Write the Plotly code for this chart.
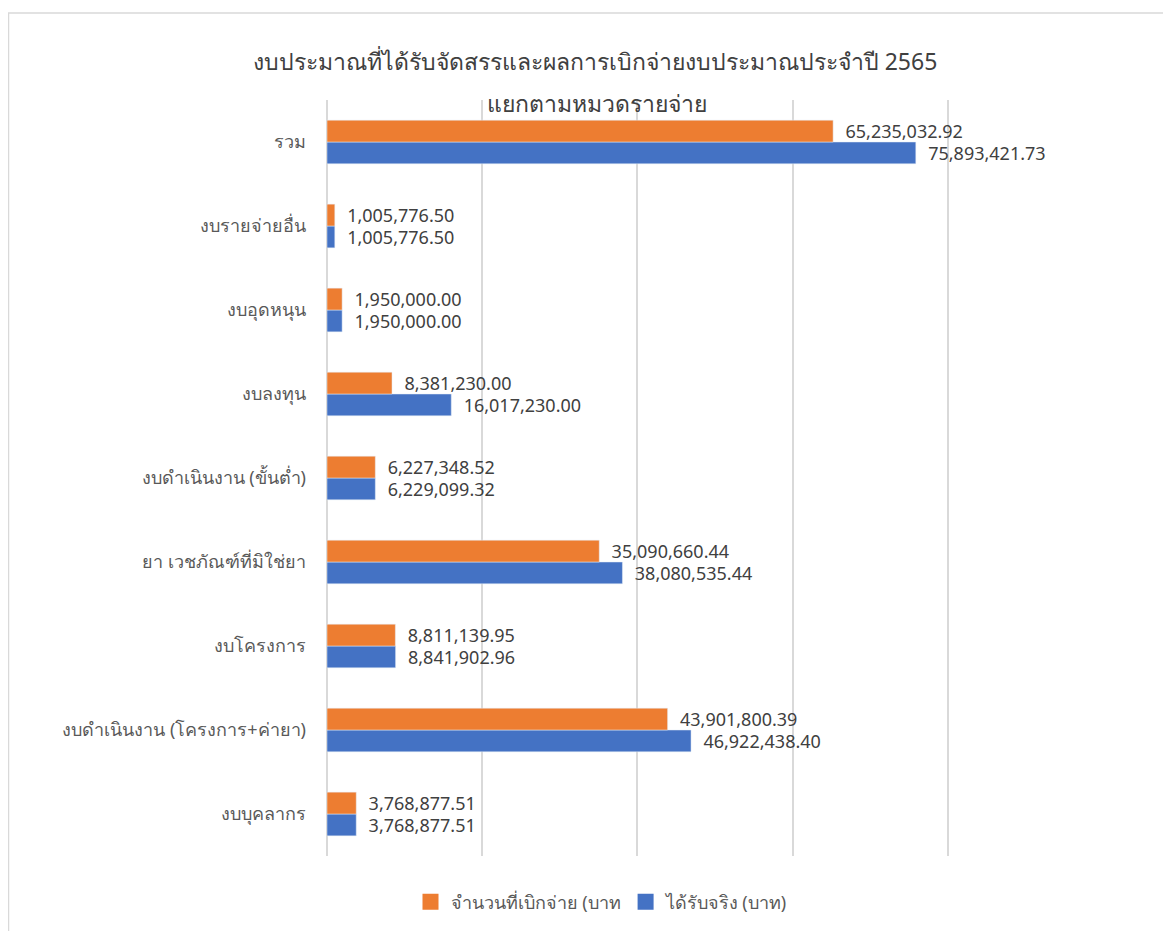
import plotly.graph_objects as go

categories = [
    "งบบุคลากร",
    "งบดำเนินงาน (โครงการ+ค่ายา)",
    "งบโครงการ",
    "ยา เวชภัณฑ์ที่มิใช่ยา",
    "งบดำเนินงาน (ขั้นต่ำ)",
    "งบลงทุน",
    "งบอุดหนุน",
    "งบรายจ่ายอื่น",
    "รวม",
]
disbursed = [3768877.51, 43901800.39, 8811139.95, 35090660.44, 6227348.52,
             8381230.00, 1950000.00, 1005776.50, 65235032.92]
received = [3768877.51, 46922438.40, 8841902.96, 38080535.44, 6229099.32,
            16017230.00, 1950000.00, 1005776.50, 75893421.73]
x_gridlines = [0, 20000000, 40000000, 60000000, 80000000]

series_names = ["จำนวนที่เบิกจ่าย (บาท", "ได้รับจริง (บาท)"]
title_line1 = "งบประมาณที่ได้รับจัดสรรและผลการเบิกจ่ายงบประมาณประจำปี 2565"
title_line2 = "แยกตามหมวดรายจ่าย"

FONT = "Noto Sans, DejaVu Sans, sans-serif"
ORANGE = "#ED7D31"
BLUE = "#4472C4"

# figure-pixel layout (page has 8px body offset)
L, R, T, B = 319, 229, 92, 83
W, H = 1171, 931
PW, PH = W - L - R, H - T - B

fig = go.Figure()
fig.add_trace(go.Bar(
    y=categories, x=received, orientation="h", name=series_names[1],
    marker=dict(color=BLUE), text=received,
    texttemplate="\u00a0\u00a0%{x:,.2f}", textposition="outside",
    textfont=dict(family=FONT, size=18, color="#404040"),
    cliponaxis=False, constraintext="none", showlegend=False,
    legendgroup="b",
))
fig.add_trace(go.Bar(
    y=categories, x=disbursed, orientation="h", name=series_names[0],
    marker=dict(color=ORANGE), text=disbursed,
    texttemplate="\u00a0\u00a0%{x:,.2f}", textposition="outside",
    textfont=dict(family=FONT, size=18, color="#404040"),
    cliponaxis=False, constraintext="none", showlegend=False,
    legendgroup="o",
))
# legend entries with larger square swatches
for name, color, grp, rank in [(series_names[0], ORANGE, "o", 1),
                               (series_names[1], BLUE, "b", 2)]:
    fig.add_trace(go.Scatter(
        x=[None], y=[None], mode="markers", name=name, legendgroup=grp,
        legendrank=rank, hoverinfo="skip",
        marker=dict(symbol="square", size=16, color=color, line=dict(width=0)),
    ))

fig.update_layout(
    width=W, height=H,
    margin=dict(l=L, r=R, t=T, b=B),
    paper_bgcolor="white", plot_bgcolor="white",
    barmode="group", bargap=0.48, bargroupgap=0,
    title=dict(text=title_line1, x=(595 - 8) / W, xanchor="center",
               y=1 - (62 - 8) / H, yanchor="middle",
               font=dict(family=FONT, size=23, color="#404040")),
    font=dict(family=FONT, color="#595959"),
    showlegend=True,
    legend=dict(orientation="h", x=(602 - 8 - L) / PW, xanchor="center",
                y=-(902 - 8 - (H - B)) / PH, yanchor="middle",
                font=dict(family=FONT, size=18, color="#595959"),
                itemsizing="trace", itemwidth=30, tracegroupgap=0),
    xaxis=dict(range=[0, 80300000], tickvals=x_gridlines,
               showticklabels=False,
               showgrid=True, gridcolor="#d9d9d9", gridwidth=2,
               zeroline=True, zerolinecolor="#d9d9d9", zerolinewidth=2,
               showline=False, fixedrange=True),
    yaxis=dict(type="category", showgrid=False, showline=False, ticks="",
               tickfont=dict(family=FONT, size=18, color="#595959"),
               ticklabelstandoff=20),
    annotations=[dict(text=title_line2, xref="paper", yref="paper",
                      x=(597 - 8 - L) / PW, y=1 + (T - (103 - 8)) / PH,
                      xanchor="center", yanchor="middle", showarrow=False,
                      font=dict(family=FONT, size=23, color="#404040"))],
    shapes=[dict(type="rect", xref="paper", yref="paper",
                 x0=(0.5 - L) / PW, x1=1.6, y0=-0.3, y1=(H - B - 5) / PH,
                 line=dict(color="#d9d9d9", width=1.5), fillcolor="rgba(0,0,0,0)",
                 layer="below")],
)

fig.write_html("out.html")
